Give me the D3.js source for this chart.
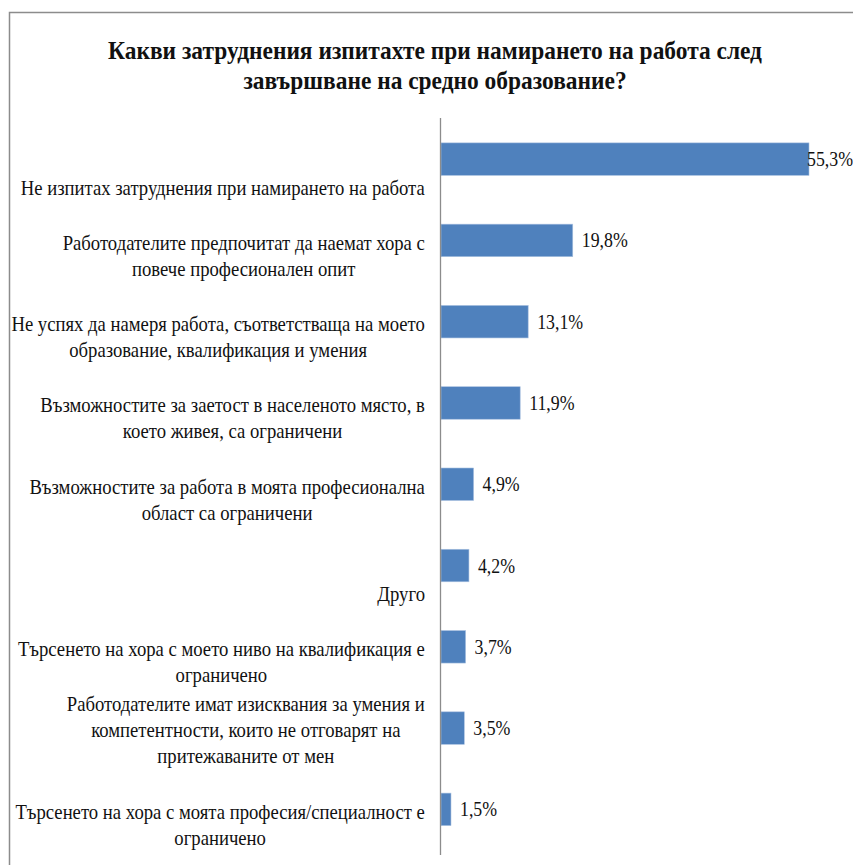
<!DOCTYPE html>
<html><head><meta charset="utf-8">
<script src="https://cdn.jsdelivr.net/npm/d3@7"></script>
<style>body{margin:0;background:#fff}svg{display:block}</style>
</head><body>
<svg id="chart" width="853" height="865"></svg>
<script>
const titleLines = ["Какви затруднения изпитахте при намирането на работа след", "завършване на средно образование?"];
const categories = [
  ["", "Не изпитах затруднения при намирането на работа"],
  ["Работодателите предпочитат да наемат хора с", "повече професионален опит"],
  ["Не успях да намеря работа, съответстваща на моето", "образование, квалификация и умения"],
  ["Възможностите за заетост в населеното място, в", "което живея, са ограничени"],
  ["Възможностите за работа в моята професионална", "област са ограничени"],
  ["", "Друго"],
  ["Търсенето на хора с моето ниво на квалификация е", "ограничено"],
  ["Работодателите имат изисквания за умения и", "компетентности, които не отговарят на", "притежаваните от мен"],
  ["Търсенето на хора с моята професия/специалност е", "ограничено"]
];
const values = [55.3, 19.8, 13.1, 11.9, 4.9, 4.2, 3.7, 3.5, 1.5];

const svg = d3.select("#chart");
const W = 853, H = 865;
const font = "'Liberation Serif', 'DejaVu Serif', serif";
const SX = 0.89; // horizontal condensing of the serif face

// frame
svg.append("path").attr("d", `M9.5,${H} V12.5 H${W}`).attr("fill","none").attr("stroke","#8c8c8c").attr("stroke-width",1.5);

// helper: condensed text at (x,y)
function ctext(parent, str, size, anchor, weight){
  const g = parent.append("g");
  const t = g.append("text").attr("dy","0.35em").attr("text-anchor",anchor)
    .attr("font-family",font).attr("font-size",size).attr("font-weight",weight||"normal")
    .attr("fill","#111").text(str);
  return {g, t, w: t.node().getComputedTextLength()};
}

// title
titleLines.forEach((s,i)=>{
  const o = ctext(svg, s, 25, "middle", "bold");
  o.g.attr("transform", `translate(435,${50+i*30}) scale(0.937,1)`);
});

const idx = d3.range(values.length);
const y = d3.scaleBand().domain(idx).range([118.5, 850]).paddingInner(0.6).paddingOuter(0.3);
const x = d3.scaleLinear().domain([0, 55.3]).range([441, 809]);

// bars
svg.append("g").selectAll("rect").data(idx).join("rect")
  .attr("x", x(0)).attr("y", i=>y(i)).attr("width", i=>x(values[i])-x(0)).attr("height", y.bandwidth())
  .attr("fill","#4f81bd").attr("stroke","#a9c1e0").attr("stroke-width",0.6);

// axis line
svg.append("line").attr("x1",440.5).attr("x2",440.5).attr("y1",118).attr("y2",855).attr("stroke","#8c8c8c").attr("stroke-width",1.3);

// value labels
const fmt = v => d3.format(".1f")(v).replace(".", ",") + "%";
const vg = svg.append("g");
idx.forEach(i=>{
  const o = ctext(vg, fmt(values[i]), 20, "start");
  const xx = Math.min(x(values[i])+9, W - o.w*SX);
  o.g.attr("transform", `translate(${xx},${y(i)+y.bandwidth()/2}) scale(${SX},1)`);
});

// category labels: lines centered within block, block right aligned
const lab = svg.append("g");
idx.forEach(i=>{
  const lines = categories[i];
  const cy = y(i)+y.bandwidth()/2;
  const first = cy + 2 - 26*(lines.length-2);
  const objs = lines.map(s=>ctext(lab, s, 21, "middle"));
  const maxW = d3.max(objs, o=>o.w)*SX;
  objs.forEach((o,k)=>o.g.attr("transform", `translate(${425 - maxW/2},${first+26*k}) scale(${SX},1)`));
});
</script>
</body></html>
